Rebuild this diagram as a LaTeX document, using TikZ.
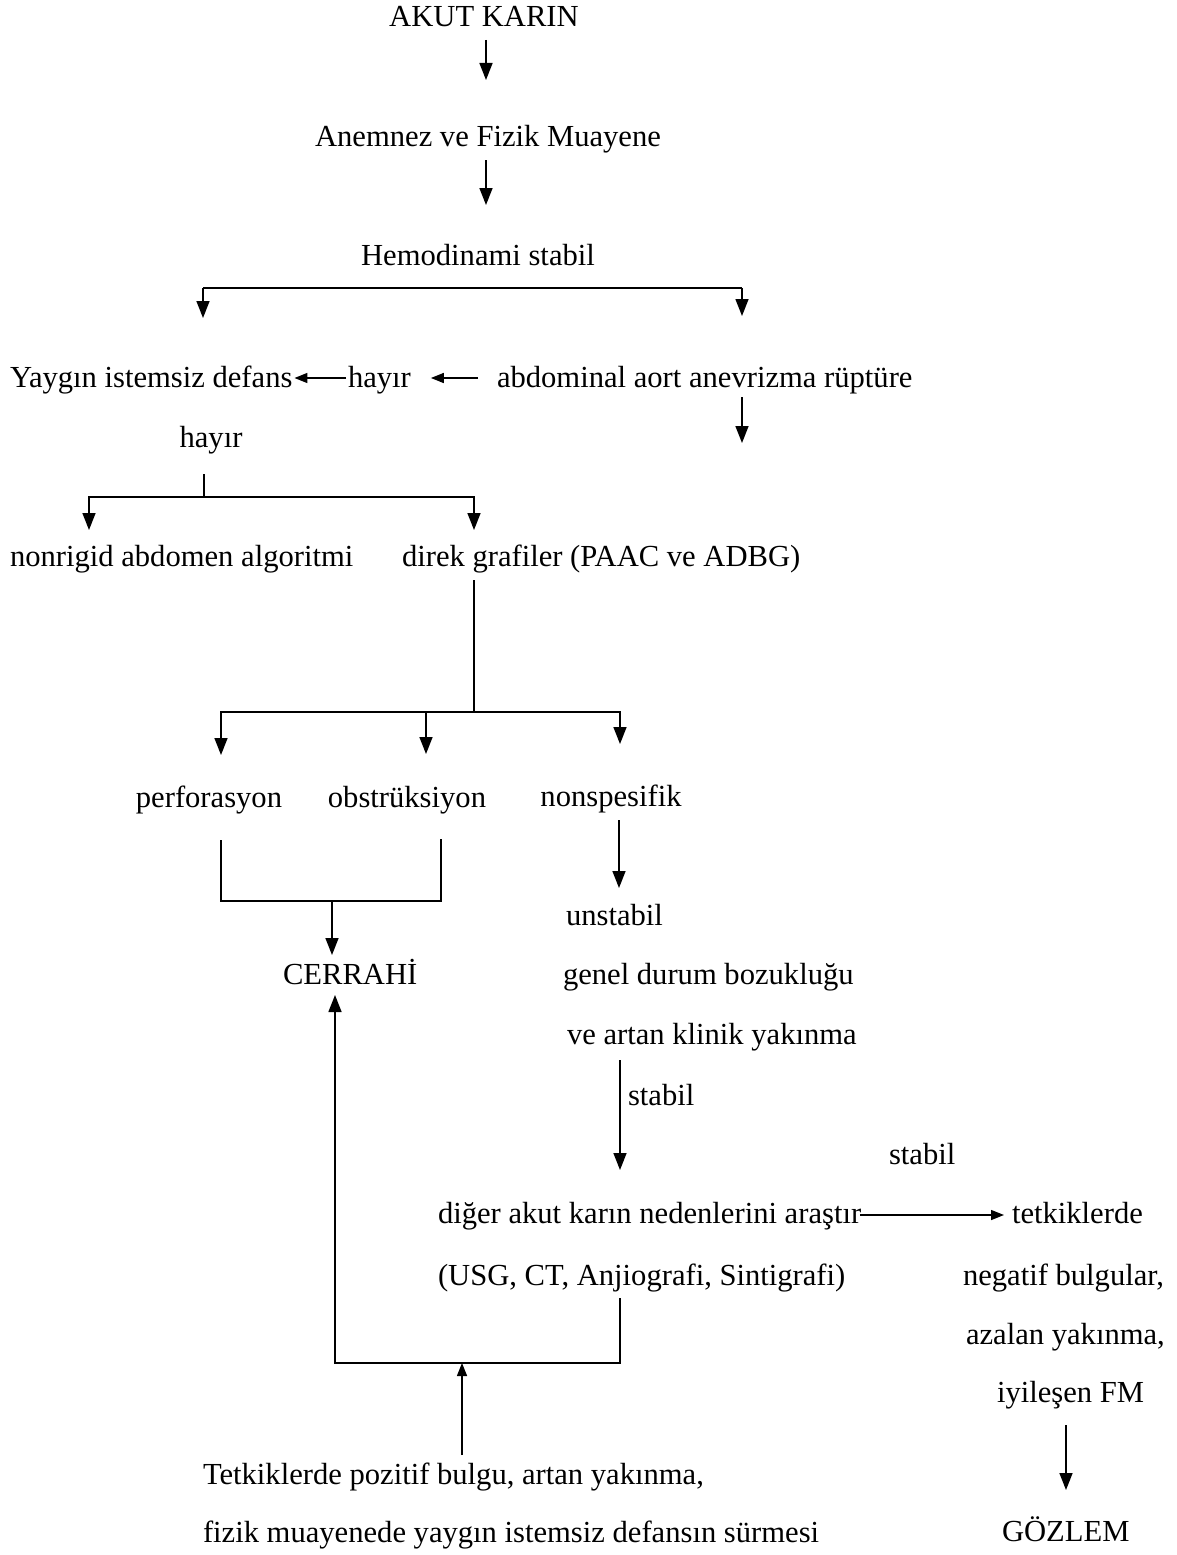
\documentclass[tikz,border=0pt]{standalone}
\usepackage{fontspec}
\setmainfont{Liberation Serif}
\usetikzlibrary{arrows.meta}
\begin{document}
\begin{tikzpicture}[x=1pt,y=-1pt,
  lbl/.style={inner sep=0pt, outer sep=0pt, text height=19pt, text depth=0pt, font=\fontsize{30.6}{36}\selectfont},
  lw/.style={anchor=west},
  ln/.style={line width=1.5pt},
  arr/.style={ln, -{Triangle[length=17pt,width=13pt]}},
  arrs/.style={ln, -{Triangle[length=13pt,width=10pt]}},
]
\useasboundingbox[fill=white] (0,0) rectangle (1176,1555);

% nodes
\node[lbl] (akut) at (484,17) {AKUT KARIN};
\node[lbl] (anem) at (488,137) {Anemnez ve Fizik Muayene};
\node[lbl] (hemo) at (478,256) {Hemodinami stabil};
\node[lbl,lw] (yay) at (10,378) {Yaygın istemsiz defans};
\node[lbl,lw] (hay1) at (348,378) {hayır};
\node[lbl,lw] (abd) at (497,378) {abdominal aort anevrizma rüptüre};
\node[lbl] (hay2) at (211,438) {hayır};
\node[lbl,lw] (nonrig) at (10,557) {nonrigid abdomen algoritmi};
\node[lbl,lw] (direk) at (402,557) {direk grafiler (PAAC ve ADBG)};
\node[lbl] (perf) at (209,798) {perforasyon};
\node[lbl] (obst) at (407,798) {obstrüksiyon};
\node[lbl] (nonsp) at (611,797) {nonspesifik};
\node[lbl,lw] (unst) at (566,916) {unstabil};
\node[lbl,lw] (genel) at (563,975) {genel durum bozukluğu};
\node[lbl,lw] (veart) at (567,1035) {ve artan klinik yakınma};
\node[lbl,lw] (stab1) at (628,1096) {stabil};
\node[lbl,lw] (stab2) at (889,1155) {stabil};
\node[lbl,lw] (diger) at (438,1214) {diğer akut karın nedenlerini araştır};
\node[lbl,lw] (tetk) at (1012,1214) {tetkiklerde};
\node[lbl,lw] (usg) at (438,1276) {(USG, CT, Anjiografi, Sintigrafi)};
\node[lbl,lw] (neg) at (963,1276) {negatif bulgular,};
\node[lbl,lw] (azal) at (966,1335) {azalan yakınma,};
\node[lbl,lw] (iyil) at (997,1393) {iyileşen FM};
\node[lbl,lw] (goz) at (1002,1532) {GÖZLEM};
\node[lbl,lw] (cerr) at (283,975) {CERRAHİ};
\node[lbl,lw] (tpos) at (203,1475) {Tetkiklerde pozitif bulgu, artan yakınma,};
\node[lbl,lw] (fiz) at (203,1533) {fizik muayenede yaygın istemsiz defansın sürmesi};

% waypoints
\coordinate (a1s) at (486,40);   \coordinate (a1e) at (486,80);
\coordinate (a2s) at (486,160);  \coordinate (a2e) at (486,205);
\coordinate (hbl) at (203,288);  \coordinate (hbr) at (742,288);
\coordinate (hbLt) at (203,318); \coordinate (hbRt) at (742,316);
\coordinate (abdS) at (742,397); \coordinate (abdE) at (742,443);
\coordinate (h2s) at (204,474);  \coordinate (h2j) at (204,497);
\coordinate (h2l) at (89,497);   \coordinate (h2r) at (474,497);
\coordinate (nrT) at (89,530);   \coordinate (dkT) at (474,530);
\coordinate (dkS) at (474,580);  \coordinate (dkJ) at (474,712);
\coordinate (jl) at (221,712);   \coordinate (jr) at (620,712);
\coordinate (jm) at (426,712);
\coordinate (pfT) at (221,755);  \coordinate (obT) at (426,754); \coordinate (nsT) at (620,744);
\coordinate (pfS) at (221,840);  \coordinate (obS) at (441,839);
\coordinate (pfB) at (221,901);  \coordinate (obB) at (441,901);
\coordinate (pcJ) at (332,901);  \coordinate (crT) at (332,955);
\coordinate (nsS) at (619,820);  \coordinate (usT) at (619,888);
\coordinate (vaS) at (620,1060); \coordinate (dgT) at (620,1170);
\coordinate (dgR) at (860,1215); \coordinate (ttL) at (1004,1215);
\coordinate (ugS) at (620,1298); \coordinate (ugB) at (620,1363);
\coordinate (crB) at (335,1363); \coordinate (crH) at (335,995);
\coordinate (tpS) at (462,1455); \coordinate (tpE) at (462,1363);
\coordinate (iyS) at (1066,1425); \coordinate (gzT) at (1066,1490);

% connectors
\draw[arr] (a1s) -- (a1e);
\draw[arr] (a2s) -- (a2e);
\draw[ln] (hbl) -- (hbr);
\draw[arr] (hbl) -- (hbLt);
\draw[arr] (hbr) -- (hbRt);
\draw[arrs, shorten <=2pt, shorten >=2pt] (hay1.west) -- (yay.east);
\draw[arrs] ([xshift=-19pt]abd.west) -- ([xshift=20pt]hay1.east);
\draw[arr] (abdS) -- (abdE);
\draw[ln] (h2s) -- (h2j);
\draw[arr] (h2j) -- (h2l) -- (nrT);
\draw[arr] (h2j) -- (h2r) -- (dkT);
\draw[ln] (dkS) -- (dkJ);
\draw[arr] (dkJ) -- (jl) -- (pfT);
\draw[arr] (dkJ) -- (jr) -- (nsT);
\draw[arr] (jm) -- (obT);
\draw[ln] (pfS) -- (pfB) -- (obB) -- (obS);
\draw[arr] (pcJ) -- (crT);
\draw[arr] (nsS) -- (usT);
\draw[arr] (vaS) -- (dgT);
\draw[arrs] (dgR) -- (ttL);
\draw[arr] (ugS) -- (ugB) -- (crB) -- (crH);
\draw[arrs] (tpS) -- (tpE);
\draw[arr] (iyS) -- (gzT);
\end{tikzpicture}
\end{document}
